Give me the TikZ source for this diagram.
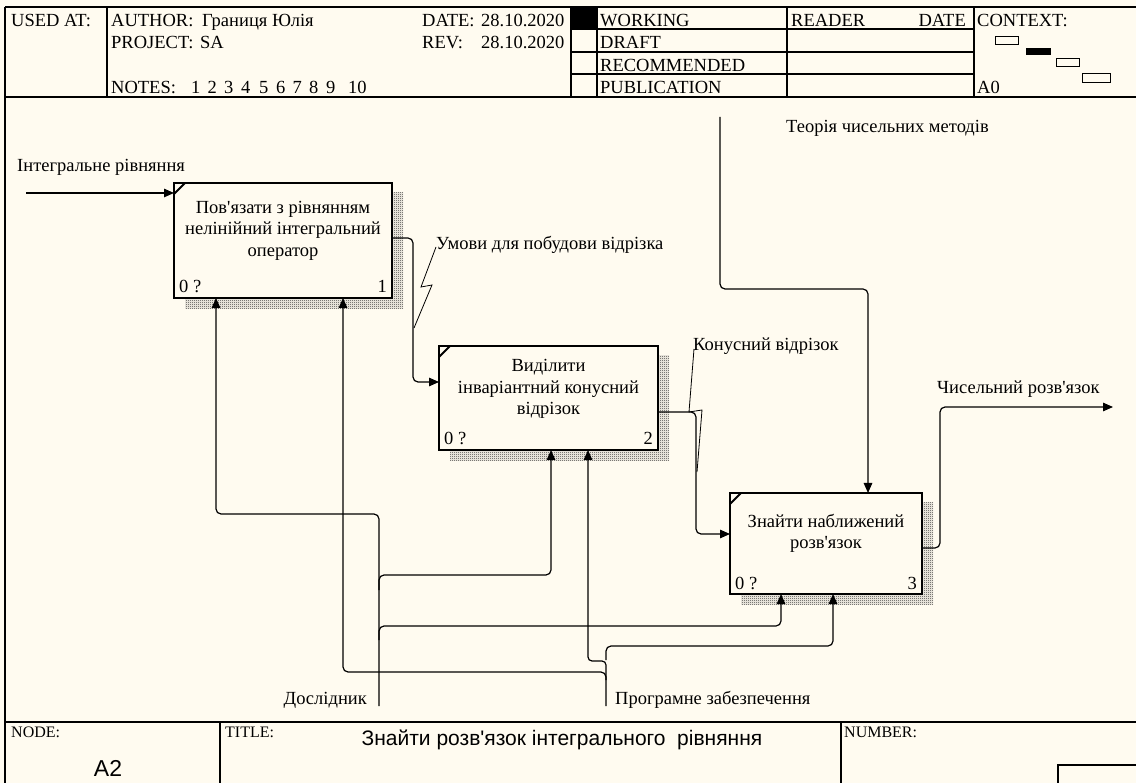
\documentclass[tikz,border=0pt]{standalone}
\usepackage{fontspec}
\setmainfont{Liberation Serif}[Ligatures=TeXOff]
\newfontfamily\sansf{Liberation Sans}[Ligatures=TeXOff]
\usetikzlibrary{arrows.meta,patterns,calc}
\definecolor{paper}{RGB}{255,251,240}
% fine checkerboard used for the drop shadows of the activity boxes
\pgfdeclarepatternformonly{checkers}{\pgfpointorigin}{\pgfqpoint{2pt}{2pt}}{\pgfqpoint{2pt}{2pt}}{%
  \pgfpathrectangle{\pgfpointorigin}{\pgfqpoint{1pt}{1pt}}%
  \pgfpathrectangle{\pgfqpoint{1pt}{1pt}}{\pgfqpoint{1pt}{1pt}}%
  \pgfusepath{fill}}
\begin{document}
\begin{tikzpicture}[x=1pt,y=-1pt,
  frm/.style={line width=1.3pt},
  arr/.style={line width=1.2pt,-{Triangle[length=10pt,width=8.5pt]},rounded corners=5pt},
  sq/.style={line width=0.8pt},
  txt/.style={inner sep=0pt,font=\fontsize{18.5}{21.5}\selectfont},
  ftxt/.style={inner sep=0pt,font=\fontsize{16}{18}\selectfont},
  fbox/.style={draw,line width=2.4pt,fill=paper,inner sep=0pt,outer sep=0pt},
  shade/.style={pattern=checkers,pattern color=black!80},
]
% sheet
\fill[paper] (0,0) rectangle (1136,783);
\useasboundingbox (0,0) rectangle (1136,783);

% ---------- header ----------
\draw[frm] (5,7) -- (1136,7);
\draw[frm] (5,97) -- (1136,97);
\draw[frm] (5,7) -- (5,783);
\draw[frm] (107,7) -- (107,97);
\draw[frm] (571,7) -- (571,97);
\draw[frm] (597,7) -- (597,97);
\draw[frm] (787,7) -- (787,97);
\draw[frm] (974,7) -- (974,97);
\foreach \yy in {29,52,74} \draw[frm] (571,\yy) -- (974,\yy);
\fill[black] (571,7) rectangle (597,29);

\node[txt,anchor=base west] (usedat) at (11,26.5) {USED AT:};
\node[txt,anchor=base west] (author) at (111,26.5) {AUTHOR:};
\node[txt,anchor=base west] (authorname) at (202,26.5) {Границя Юлія};
\node[txt,anchor=base west] (project) at (111,49) {PROJECT:};
\node[txt,anchor=base west] (projectname) at (200,49) {SA};
\node[txt,anchor=base west] (notes) at (111,93.5) {NOTES:};
\foreach \xx/\nn in {191/1,207.5/2,224/3,241/4,259/5,276/6,292.5/7,309/8,326/9,348/10}
  \node[txt,anchor=base west] (note\nn) at (\xx,93.5) {\nn};
\node[txt,anchor=base west] (date) at (422,26.5) {DATE:};
\node[txt,anchor=base west] (dateval) at (481,26.5) {28.10.2020};
\node[txt,anchor=base west] (rev) at (422,49) {REV:};
\node[txt,anchor=base west] (revval) at (481,49) {28.10.2020};
\node[txt,anchor=base west] (working) at (600,26.5) {WORKING};
\node[txt,anchor=base west] (draft) at (600,49) {DRAFT};
\node[txt,anchor=base west] (recommended) at (600,71.5) {RECOMMENDED};
\node[txt,anchor=base west] (publication) at (600,93.5) {PUBLICATION};
\node[txt,anchor=base west] (reader) at (791,26.5) {READER};
\node[txt,anchor=base east] (readerdate) at (966,26.5) {DATE};
\node[txt,anchor=base west] (context) at (977,26.5) {CONTEXT:};
\node[txt,anchor=base west] (a0) at (977,93.5) {A0};
% context map
\draw[line width=1pt] (995,37) rectangle (1018,45);
\fill[black] (1026,48) rectangle (1051,55);
\draw[line width=1pt] (1056,59) rectangle (1079,67);
\draw[line width=1pt] (1082,74) rectangle (1110,83);

% ---------- footer ----------
\draw[frm] (5,722) -- (1136,722);
\draw[frm] (220,722) -- (220,783);
\draw[frm] (841,722) -- (841,783);
\draw[frm] (1058,783) -- (1058,765) -- (1136,765);
\node[ftxt,anchor=west] (nodelbl) at (11,732) {NODE:};
\node[ftxt,anchor=west] (titlelbl) at (225,732) {TITLE:};
\node[ftxt,anchor=west] (numberlbl) at (844,732) {NUMBER:};
\node[inner sep=0pt,font=\sansf\fontsize{23}{25}\selectfont] (nodeval) at (108,768) {A2};
\node[inner sep=0pt,font=\sansf\fontsize{21}{24}\selectfont] (titleval) at (562,740) {Знайти розв'язок інтегрального\ \ рівняння};

% ---------- activity boxes ----------
\fill[shade] (185,193) rectangle (403,309);
\fill[shade] (450,356) rectangle (669,461);
\fill[shade] (741,503) rectangle (933,604);
\node[fbox,minimum width=218pt,minimum height=115pt] (b1) at (283,240.5) {};
\node[fbox,minimum width=219pt,minimum height=104pt] (b2) at (548.5,398) {};
\node[fbox,minimum width=192pt,minimum height=101pt] (b3) at (826,543.5) {};
\foreach \bb in {b1,b2,b3}
  \draw[line width=2pt] ($(\bb.north west)+(0,11)$) -- ($(\bb.north west)+(11,0)$);

\node[txt,align=center] (b1t) at ($(b1.center)+(0,-10)$) {Пов'язати з рівнянням\\нелінійний інтегральний\\оператор};
\node[txt,align=center] (b2t) at ($(b2.center)+(0,-9)$) {Виділити\\інваріантний конусний\\відрізок};
\node[txt,align=center] (b3t) at ($(b3.center)+(0,-10)$) {Знайти наближений\\розв'язок};
\foreach \bb/\num in {b1/1,b2/2,b3/3}{
  \node[txt,anchor=base west] (\bb z) at ($(\bb.south west)+(5,-5)$) {0 ?};
  \node[txt,anchor=base east] (\bb n) at ($(\bb.south east)+(-5,-5)$) {\num};
}

% ---------- input ----------
\coordinate (in1) at (26,193);
\draw[arr] (in1) -- (in1 -| b1.west);
\node[txt,anchor=base west] (in1lbl) at (17,172) {Інтегральне рівняння};

% ---------- control ----------
\coordinate (ctl) at (720,117);
\draw[arr] (ctl) -- (720,289) -- (868,289) -- (b3.north -| 868,0);
\node[txt,anchor=base west] (ctllbl) at (786,133) {Теорія чисельних методів};

% ---------- internal arrows ----------
\draw[arr] (b1.east |- 0,238) -- (413,238) -- (413,382) -- (b2.west |- 0,382);
\node[txt,anchor=base west] (c12lbl) at (436,250) {Умови для побудови відрізка};
\draw[sq] (436,247) -- (421,287) -- (432,285) -- (414,328);

\draw[arr] (b2.east |- 0,412) -- (696,412) -- (696,534) -- (b3.west |- 0,534);
\node[txt,anchor=base west] (c23lbl) at (693,351) {Конусний відрізок};
\draw[sq] (694,349) -- (689,412) -- (702,410) -- (697,472);

% ---------- output ----------
\coordinate (out1) at (1113,407);
\draw[arr] (b3.east |- 0,548) -- (940,548) -- (940,407) -- (out1);
\node[txt,anchor=base west] (out1lbl) at (937,394) {Чисельний розв'язок};

% ---------- mechanisms ----------
\coordinate (m1) at (379,706);
\coordinate (m2) at (606,706);
\draw[arr] (m1) -- (379,514) -- (216,514) -- (b1.south -| 216,0);
\draw[arr] (379,590) -- (379,575) -- (551,575) -- (b2.south -| 551,0);
\draw[arr] (379,640) -- (379,626) -- (781,626) -- (b3.south -| 781,0);
\draw[arr] (m2) -- (606,672) -- (343,672) -- (b1.south -| 343,0);
\draw[arr,rounded corners=4pt] (606,680) -- (606,661) -- (588,661) -- (b2.south -| 588,0);
\draw[arr] (606,660) -- (606,646) -- (833,646) -- (b3.south -| 833,0);
\node[txt,anchor=base east] (m1lbl) at (367,704) {Дослідник};
\node[txt,anchor=base west] (m2lbl) at (615,704) {Програмне забезпечення};
\end{tikzpicture}
\end{document}
